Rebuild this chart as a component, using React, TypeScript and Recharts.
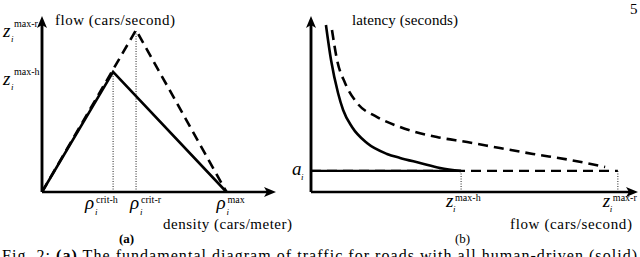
import React from "react";
import { LineChart, Line, XAxis, YAxis, ReferenceLine, ReferenceDot } from "recharts";

// (a) fundamental diagram — sketch units, both axes 0..10
const densityMarks = [3.16, 4.18, 8.2]; // rho crit-h, rho crit-r, rho max
const densityMarkLabels = ["crit-h", "crit-r", "max"];
const flowMarks = [7.19, 9.7]; // z max-h, z max-r
const flowMarkLabels = ["max-h", "max-r"];

const humanDensity = [0, 3.16, 8.2];
const humanFlow = [0, 7.19, 0];
const mixedDensity = [0, 4.18, 8.2];
const mixedFlow = [0, 9.7, 0];

// (b) latency vs flow
const capacityMarks = [4.72, 9.65]; // z max-h, z max-r on the flow axis
const capacityLabels = ["max-h", "max-r"];
const latencyMarks = [1.26]; // a_i
const latencyLabels = [""];

const humanLatFlow = [0.47, 0.63, 0.85, 1.01, 1.29, 1.76, 2.39, 2.8, 3.43, 4.06, 4.72];
const humanLatency = [10.0, 7.9, 5.93, 4.91, 3.89, 2.93, 2.28, 2.04, 1.74, 1.44, 1.26];
const mixedLatFlow = [0.66, 0.82, 1.07, 1.45, 2.08, 2.8, 3.96, 4.91, 5.94, 6.98, 8.14, 9.25];
const mixedLatency = [9.7, 7.9, 6.53, 5.33, 4.49, 3.89, 3.29, 2.99, 2.63, 2.28, 1.92, 1.5];

const axisMax = 10;

const zip = (xs: number[], ys: number[]) => xs.map((x, i) => ({ x, y: ys[i] }));

const SERIF = '"Liberation Serif", "Times New Roman", serif';
const INK = "#000";

// where the glyph pieces sit relative to the axis point [dx, dy]
const tickLayout: Record<string, { sym: [number, number]; sup: [number, number]; sub: [number, number] }> = {
  "ay-max-h": { sym: [-39, 13], sup: [-28, 3], sub: [-31, 18] },
  "ay-max-r": { sym: [-39, 7], sup: [-28, -3], sub: [-31, 12] },
  "ax-crit-h": { sym: [-28, 17], sup: [-17, 11], sub: [-18, 23] },
  "ax-crit-r": { sym: [-6, 17], sup: [5, 11], sub: [4, 23] },
  "ax-max": { sym: [-10, 17], sup: [1, 11], sub: [0, 23] },
  "by-": { sym: [-19, 4], sup: [0, 0], sub: [-10, 9] },
  "bx-max-h": { sym: [-15, 15], sup: [-6, 9], sub: [-8, 20] },
  "bx-max-r": { sym: [-15, 15], sup: [-5, 9], sub: [-8, 20] },
};

// y ticks keep recharts' default tick size (6) + margin (2)
const Y_TICK_GAP = 8;

function SymbolTick(props: any) {
  const { x, y, payload, symbol, values, labels, axis, shift = 0 } = props;
  if (x == null || y == null || !payload) return <g />;
  const idx = values.indexOf(payload.value);
  const sup = idx >= 0 ? labels[idx] : "";
  const lay = tickLayout[`${axis}-${sup}`];
  if (!lay) return <g />;
  return (
    <g transform={`translate(${x + shift},${y})`} style={{ fontFamily: SERIF }} fill={INK}>
      <text x={lay.sym[0]} y={lay.sym[1]} fontSize={19} fontStyle="italic">
        {symbol}
      </text>
      <text x={lay.sub[0]} y={lay.sub[1]} fontSize={9} fontStyle="italic">
        i
      </text>
      {sup ? (
        <text x={lay.sup[0]} y={lay.sup[1]} fontSize={10}>
          {sup}
        </text>
      ) : null}
    </g>
  );
}

// stable tick elements (recharts clones them with x, y, payload)
const densityTick = <SymbolTick symbol="ρ" values={densityMarks} labels={densityMarkLabels} axis="ax" />;
const flowTick = <SymbolTick shift={Y_TICK_GAP} symbol="z" values={flowMarks} labels={flowMarkLabels} axis="ay" />;
const capacityTick = <SymbolTick symbol="z" values={capacityMarks} labels={capacityLabels} axis="bx" />;
const latencyTick = <SymbolTick shift={Y_TICK_GAP} symbol="a" values={latencyMarks} labels={latencyLabels} axis="by" />;

// arrowhead for the top of a vertical axis
function UpArrow(props: any) {
  const { cx, cy } = props;
  if (cx == null || cy == null) return <g />;
  return <path d={`M${cx},${cy - 9} L${cx + 5},${cy + 3} L${cx},${cy} L${cx - 5},${cy + 3} Z`} fill={INK} />;
}

const dotted = { stroke: "#222", strokeWidth: 1, strokeDasharray: "1 1.5" };
const xAxisLineA = { stroke: INK, strokeWidth: 2.5, markerEnd: "url(#arrA)" };
const xAxisLineB = { stroke: INK, strokeWidth: 2.5, markerEnd: "url(#arrB)" };
const yAxisLine = { stroke: INK, strokeWidth: 2.5 };

function FundamentalDiagram() {
  return (
    <LineChart width={300} height={257} margin={{ top: 25, right: 33, bottom: 0, left: 0 }}>
      <defs>
        <marker id="arrA" viewBox="0 0 12 12" refX="3" refY="6" markerWidth="12" markerHeight="12" markerUnits="userSpaceOnUse" orient="auto">
          <path d="M0,1 L12,6 L0,11 L3,6 z" fill={INK} />
        </marker>
      </defs>
      <XAxis
        type="number"
        dataKey="x"
        domain={[0, axisMax]}
        ticks={densityMarks}
        interval={0}
        height={65}
        tickSize={0}
        tickMargin={0}
        tickLine={false}
        axisLine={xAxisLineA}
        tick={densityTick}
      />
      <YAxis
        type="number"
        dataKey="y"
        domain={[0, axisMax]}
        ticks={flowMarks}
        interval={0}
        width={42}
        tickLine={false}
        axisLine={yAxisLine}
        tick={flowTick}
      />
      <ReferenceLine segment={[{ x: 0, y: 0 }, { x: 0, y: axisMax }]} {...yAxisLine} ifOverflow="visible" />
      <ReferenceDot x={0} y={axisMax} r={5} ifOverflow="visible" shape={UpArrow} />
      <ReferenceLine segment={[{ x: densityMarks[0], y: 0 }, { x: densityMarks[0], y: flowMarks[0] }]} {...dotted} />
      <ReferenceLine segment={[{ x: densityMarks[1], y: 0 }, { x: densityMarks[1], y: flowMarks[1] }]} {...dotted} />
      <Line
        data={zip(mixedDensity, mixedFlow)}
        dataKey="y"
        type="linear"
        stroke={INK}
        strokeWidth={2.6}
        strokeDasharray="10 6"
        strokeLinejoin="miter"
        dot={false}
        isAnimationActive={false}
      />
      <Line
        data={zip(humanDensity, humanFlow)}
        dataKey="y"
        type="linear"
        stroke={INK}
        strokeWidth={2.6}
        strokeLinejoin="miter"
        dot={false}
        isAnimationActive={false}
      />
    </LineChart>
  );
}

function LatencyDiagram() {
  return (
    <LineChart width={360} height={257} margin={{ top: 25, right: 11, bottom: 0, left: 0 }}>
      <defs>
        <marker id="arrB" viewBox="0 0 12 12" refX="3" refY="6" markerWidth="12" markerHeight="12" markerUnits="userSpaceOnUse" orient="auto">
          <path d="M0,1 L12,6 L0,11 L3,6 z" fill={INK} />
        </marker>
      </defs>
      <XAxis
        type="number"
        dataKey="x"
        domain={[0, axisMax]}
        ticks={capacityMarks}
        interval={0}
        height={65}
        tickSize={0}
        tickMargin={0}
        tickLine={false}
        axisLine={xAxisLineB}
        tick={capacityTick}
      />
      <YAxis
        type="number"
        dataKey="y"
        domain={[0, axisMax]}
        ticks={latencyMarks}
        interval={0}
        width={31}
        tickLine={false}
        axisLine={yAxisLine}
        tick={latencyTick}
      />
      <ReferenceLine segment={[{ x: 0, y: 0 }, { x: 0, y: axisMax }]} {...yAxisLine} ifOverflow="visible" />
      <ReferenceDot x={0} y={axisMax} r={5} ifOverflow="visible" shape={UpArrow} />
      <ReferenceLine segment={[{ x: capacityMarks[0], y: 0 }, { x: capacityMarks[0], y: latencyMarks[0] }]} {...dotted} />
      <ReferenceLine segment={[{ x: capacityMarks[1], y: 0 }, { x: capacityMarks[1], y: latencyMarks[0] }]} {...dotted} />
      <Line
        data={zip([0, capacityMarks[1]], [latencyMarks[0], latencyMarks[0]])}
        dataKey="y"
        type="linear"
        stroke={INK}
        strokeWidth={2.2}
        strokeDasharray="10 6"
        dot={false}
        isAnimationActive={false}
      />
      <Line
        data={zip([0, capacityMarks[0]], [latencyMarks[0], latencyMarks[0]])}
        dataKey="y"
        type="linear"
        stroke={INK}
        strokeWidth={2.2}
        dot={false}
        isAnimationActive={false}
      />
      <Line
        data={zip(mixedLatFlow, mixedLatency)}
        dataKey="y"
        type="monotone"
        stroke={INK}
        strokeWidth={2.6}
        strokeDasharray="10 6"
        dot={false}
        isAnimationActive={false}
      />
      <Line
        data={zip(humanLatFlow, humanLatency)}
        dataKey="y"
        type="monotone"
        stroke={INK}
        strokeWidth={2.6}
        dot={false}
        isAnimationActive={false}
      />
    </LineChart>
  );
}

export default function App() {
  return (
    <div
      style={{
        position: "absolute",
        left: 0,
        top: 0,
        width: 640,
        height: 257,
        background: "#fff",
        overflow: "hidden",
      }}
    >
      <svg width={640} height={257} style={{ position: "absolute", left: 0, top: 0, fontFamily: SERIF }}>
        <g fill={INK}>
          <text x={55} y={25} fontSize={15} textLength={120}>flow (cars/second)</text>
          <text x={352} y={25} fontSize={15} textLength={106}>latency (seconds)</text>
          <text x={163} y={229} fontSize={15} textLength={129}>density (cars/meter)</text>
          <text x={510} y={229} fontSize={15} textLength={122}>flow (cars/second)</text>
          <text x={119} y={243} fontSize={13} fontWeight="bold">(a)</text>
          <text x={455} y={243} fontSize={13}>(b)</text>
          <text x={630} y={14} fontSize={15}>5</text>
          <text x={2} y={261} fontSize={16} textLength={635} lengthAdjust="spacing">
            Fig. 2: <tspan fontWeight="bold">(a)</tspan> The fundamental diagram of traffic for roads with all human-driven (solid)
          </text>
        </g>
      </svg>
      <div style={{ position: "absolute", left: 0, top: 0 }}>
        <FundamentalDiagram />
      </div>
      <div style={{ position: "absolute", left: 280, top: 0 }}>
        <LatencyDiagram />
      </div>
    </div>
  );
}
